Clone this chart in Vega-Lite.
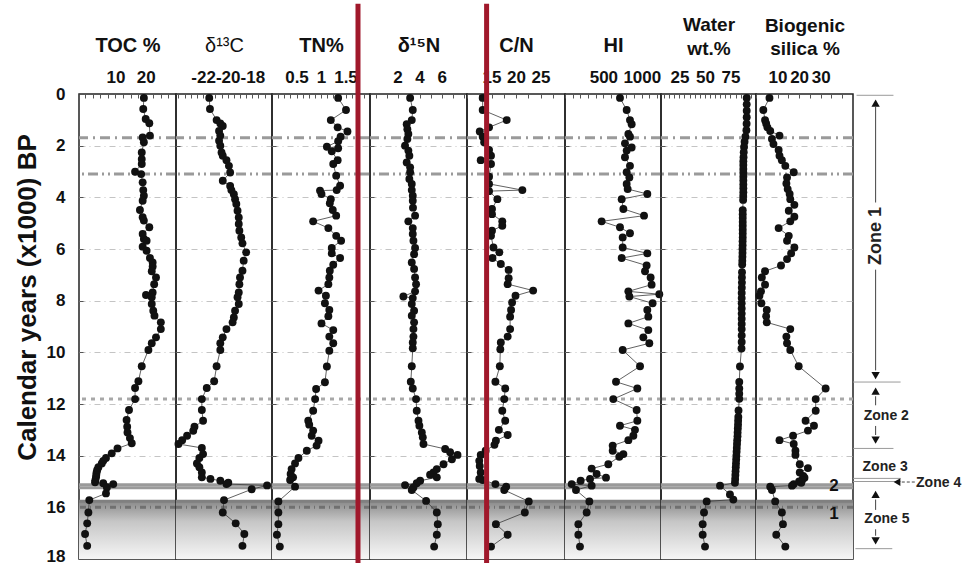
{
  "$schema": "https://vega.github.io/schema/vega-lite/v6.json",
  "padding": {"left": 13, "top": 0, "right": 0, "bottom": 0},
  "background": "white",
  "spacing": 0,
  "bounds": "flush",
  "config": {
    "view": {"stroke": "#222", "strokeWidth": 1.5},
    "font": "Liberation Sans",
    "axis": {"domain": false, "labelFont": "Liberation Sans", "titleFont": "Liberation Sans", "labelFontWeight": "bold", "titleFontWeight": "bold", "labelColor": "#111", "titleColor": "#111", "tickColor": "#555", "tickSize": -4, "tickWidth": 1, "labelOverlap": false, "labelFlush": false, "labelBound": false},
    "axisX": {"labelFontSize": 17, "labelBaseline": "alphabetic", "labelPadding": 16, "titleFontSize": 20, "titleBaseline": "alphabetic", "titleY": -43, "grid": false},
    "axisY": {"labelFontSize": 17, "labelPadding": 18, "titleFontSize": 26, "titlePadding": 6, "grid": true, "gridColor": "#c4c4c4", "gridDash": [6, 4, 1, 4], "gridWidth": 1}
  },
  "datasets": {
    "shade": [{"y1": 15.76, "y2": 18}],
    "hl": [{"y": 1.69, "k": "a"}, {"y": 3.1, "k": "b"}, {"y": 11.81, "k": "c"}, {"y": 15.13, "k": "d"}, {"y": 15.24, "k": "d"}, {"y": 15.76, "k": "e"}, {"y": 16.0, "k": "f"}],
    "toc": [{"age":0.15,"v":19.4},{"age":0.58,"v":19.2},{"age":0.97,"v":20.0},{"age":1.13,"v":21.2},{"age":1.61,"v":21.4},{"age":1.68,"v":19.0},{"age":1.87,"v":19.4},{"age":2.26,"v":18.7},{"age":2.52,"v":18.7},{"age":2.71,"v":18.7},{"age":3.01,"v":16.5},{"age":3.1,"v":18.5},{"age":3.42,"v":19.0},{"age":3.72,"v":19.2},{"age":3.94,"v":19.4},{"age":4.13,"v":19.0},{"age":4.49,"v":18.1},{"age":4.77,"v":19.0},{"age":4.9,"v":19.4},{"age":5.16,"v":21.2},{"age":5.42,"v":19.0},{"age":5.61,"v":19.4},{"age":5.68,"v":20.3},{"age":5.91,"v":19.0},{"age":6.07,"v":20.3},{"age":6.35,"v":21.4},{"age":6.52,"v":22.3},{"age":6.68,"v":22.3},{"age":6.86,"v":22.0},{"age":7.1,"v":23.4},{"age":7.36,"v":22.8},{"age":7.68,"v":22.3},{"age":7.78,"v":20.1},{"age":7.87,"v":22.0},{"age":8.13,"v":22.0},{"age":8.39,"v":22.5},{"age":8.58,"v":22.9},{"age":8.84,"v":25.0},{"age":9.1,"v":25.0},{"age":9.42,"v":23.4},{"age":9.65,"v":22.0},{"age":9.91,"v":20.9},{"age":10.54,"v":18.7},{"age":11.12,"v":17.6},{"age":11.38,"v":16.5},{"age":11.81,"v":16.5},{"age":12.23,"v":14.5},{"age":12.62,"v":13.7},{"age":12.88,"v":13.9},{"age":13.1,"v":14.0},{"age":13.32,"v":14.8},{"age":13.52,"v":15.4},{"age":13.72,"v":10.7},{"age":13.91,"v":8.8},{"age":14.09,"v":6.9},{"age":14.2,"v":6.0},{"age":14.3,"v":5.5},{"age":14.45,"v":4.4},{"age":14.55,"v":4.0},{"age":14.65,"v":3.8},{"age":14.75,"v":3.7},{"age":14.84,"v":3.6},{"age":14.95,"v":3.4},{"age":15.03,"v":3.3},{"age":15.07,"v":6.0},{"age":15.1,"v":9.3},{"age":15.23,"v":7.2},{"age":15.46,"v":6.9},{"age":15.72,"v":1.4},{"age":16.2,"v":1.1},{"age":16.62,"v":0.7},{"age":17.03,"v":0.0},{"age":17.49,"v":0.7}],
    "d13c": [{"age":0.15,"v":-21.5},{"age":0.58,"v":-21.44},{"age":1.01,"v":-20.9},{"age":1.14,"v":-20.6},{"age":1.24,"v":-20.4},{"age":1.43,"v":-20.7},{"age":1.61,"v":-20.6},{"age":1.81,"v":-20.7},{"age":2.0,"v":-20.6},{"age":2.26,"v":-20.5},{"age":2.39,"v":-20.4},{"age":2.56,"v":-20.1},{"age":2.78,"v":-19.9},{"age":3.04,"v":-19.8},{"age":3.36,"v":-20.4},{"age":3.56,"v":-19.8},{"age":3.72,"v":-19.7},{"age":3.88,"v":-19.5},{"age":4.07,"v":-19.4},{"age":4.26,"v":-19.3},{"age":4.52,"v":-19.2},{"age":4.78,"v":-19.1},{"age":5.03,"v":-19.1},{"age":5.29,"v":-19.05},{"age":5.55,"v":-18.9},{"age":5.78,"v":-18.8},{"age":6.13,"v":-18.5},{"age":6.45,"v":-18.7},{"age":6.84,"v":-18.8},{"age":7.1,"v":-19.0},{"age":7.36,"v":-19.05},{"age":7.68,"v":-19.1},{"age":7.87,"v":-19.2},{"age":8.13,"v":-19.1},{"age":8.39,"v":-19.4},{"age":8.65,"v":-19.5},{"age":8.84,"v":-19.6},{"age":9.1,"v":-20.1},{"age":9.42,"v":-20.4},{"age":9.65,"v":-20.6},{"age":9.91,"v":-20.6},{"age":10.54,"v":-20.9},{"age":11.12,"v":-21.1},{"age":11.38,"v":-21.7},{"age":11.81,"v":-22.1},{"age":12.23,"v":-22.1},{"age":12.65,"v":-22.0},{"age":12.88,"v":-22.7},{"age":13.04,"v":-22.8},{"age":13.23,"v":-23.3},{"age":13.4,"v":-23.7},{"age":13.55,"v":-24.0},{"age":13.7,"v":-22.1},{"age":13.94,"v":-22.0},{"age":14.09,"v":-22.3},{"age":14.3,"v":-22.5},{"age":14.45,"v":-22.3},{"age":14.65,"v":-22.1},{"age":14.84,"v":-22.1},{"age":14.9,"v":-21.4},{"age":14.97,"v":-20.6},{"age":15.05,"v":-19.95},{"age":15.1,"v":-20.1},{"age":15.15,"v":-16.8},{"age":15.3,"v":-18.05},{"age":15.72,"v":-20.3},{"age":16.2,"v":-20.4},{"age":16.62,"v":-19.35},{"age":17.03,"v":-18.65},{"age":17.49,"v":-18.8}],
    "tn": [{"age":0.15,"v":1.35},{"age":0.62,"v":1.51},{"age":1.01,"v":1.2},{"age":1.29,"v":1.34},{"age":1.45,"v":1.54},{"age":1.65,"v":1.4},{"age":1.83,"v":1.35},{"age":2.04,"v":1.12},{"age":2.1,"v":1.35},{"age":2.22,"v":1.22},{"age":2.56,"v":1.34},{"age":2.71,"v":1.25},{"age":3.16,"v":1.31},{"age":3.55,"v":1.39},{"age":3.72,"v":1.32},{"age":3.74,"v":0.98},{"age":3.87,"v":1.01},{"age":4.07,"v":1.2},{"age":4.23,"v":1.18},{"age":4.49,"v":1.24},{"age":4.71,"v":1.31},{"age":4.93,"v":0.84},{"age":5.19,"v":1.15},{"age":5.49,"v":1.31},{"age":5.68,"v":1.41},{"age":5.96,"v":1.22},{"age":6.17,"v":1.22},{"age":6.35,"v":1.39},{"age":6.61,"v":1.25},{"age":6.84,"v":1.18},{"age":7.1,"v":1.17},{"age":7.36,"v":1.15},{"age":7.61,"v":0.95},{"age":7.81,"v":1.1},{"age":8.1,"v":1.08},{"age":8.36,"v":1.17},{"age":8.6,"v":1.15},{"age":8.88,"v":1.01},{"age":9.14,"v":1.25},{"age":9.39,"v":1.17},{"age":9.65,"v":1.25},{"age":9.94,"v":1.17},{"age":10.55,"v":1.12},{"age":11.16,"v":1.08},{"age":11.42,"v":0.9},{"age":11.81,"v":0.88},{"age":12.26,"v":0.84},{"age":12.65,"v":0.74},{"age":12.8,"v":0.76},{"age":13.03,"v":0.84},{"age":13.23,"v":0.81},{"age":13.42,"v":0.95},{"age":13.61,"v":0.91},{"age":13.81,"v":0.71},{"age":14.09,"v":0.54},{"age":14.3,"v":0.47},{"age":14.52,"v":0.4},{"age":14.71,"v":0.38},{"age":14.84,"v":0.43},{"age":14.94,"v":0.37},{"age":15.2,"v":0.47},{"age":15.77,"v":0.13},{"age":16.2,"v":0.13},{"age":16.65,"v":0.13},{"age":17.06,"v":0.1},{"age":17.52,"v":0.16}],
    "d15n": [{"age":0.15,"v":3.14},{"age":0.62,"v":3.38},{"age":1.01,"v":3.29},{"age":1.17,"v":2.83},{"age":1.36,"v":2.89},{"age":1.55,"v":2.98},{"age":1.74,"v":2.89},{"age":2.0,"v":2.68},{"age":2.19,"v":2.98},{"age":2.39,"v":3.07},{"age":2.65,"v":2.83},{"age":2.84,"v":3.14},{"age":3.03,"v":3.14},{"age":3.29,"v":3.07},{"age":3.48,"v":3.29},{"age":3.72,"v":3.29},{"age":3.94,"v":3.38},{"age":4.13,"v":3.38},{"age":4.4,"v":3.4},{"age":4.71,"v":3.59},{"age":4.93,"v":2.98},{"age":5.19,"v":3.38},{"age":5.42,"v":3.38},{"age":5.68,"v":3.44},{"age":5.96,"v":3.59},{"age":6.2,"v":3.5},{"age":6.52,"v":3.29},{"age":6.77,"v":3.5},{"age":7.1,"v":3.59},{"age":7.36,"v":3.68},{"age":7.64,"v":3.59},{"age":7.84,"v":2.53},{"age":7.9,"v":3.38},{"age":8.13,"v":3.29},{"age":8.39,"v":3.5},{"age":8.58,"v":3.29},{"age":8.84,"v":3.5},{"age":9.1,"v":3.44},{"age":9.39,"v":3.44},{"age":9.62,"v":3.38},{"age":9.84,"v":3.38},{"age":10.54,"v":3.29},{"age":11.14,"v":3.2},{"age":11.4,"v":3.38},{"age":11.81,"v":3.68},{"age":12.26,"v":3.74},{"age":12.65,"v":3.9},{"age":12.84,"v":3.98},{"age":13.1,"v":4.2},{"age":13.29,"v":4.29},{"age":13.55,"v":4.35},{"age":13.74,"v":6.32},{"age":13.87,"v":6.77},{"age":13.97,"v":7.44},{"age":14.14,"v":6.93},{"age":14.33,"v":6.17},{"age":14.52,"v":5.56},{"age":14.65,"v":5.26},{"age":14.74,"v":4.95},{"age":14.84,"v":5.56},{"age":14.97,"v":4.05},{"age":15.07,"v":3.74},{"age":15.14,"v":2.68},{"age":15.23,"v":3.44},{"age":15.33,"v":3.29},{"age":15.75,"v":4.59},{"age":16.2,"v":5.56},{"age":16.65,"v":5.65},{"age":17.06,"v":5.56},{"age":17.52,"v":5.32}],
    "cn": [{"age":0.15,"v":13.2},{"age":0.62,"v":13.2},{"age":1.01,"v":18.1},{"age":1.29,"v":14.5},{"age":1.45,"v":12.6},{"age":1.65,"v":13.2},{"age":1.87,"v":13.5},{"age":2.17,"v":14.5},{"age":2.39,"v":14.9},{"age":2.56,"v":12.8},{"age":2.71,"v":14.9},{"age":3.2,"v":14.5},{"age":3.48,"v":14.5},{"age":3.72,"v":21.3},{"age":3.76,"v":14.5},{"age":4.07,"v":16.2},{"age":4.45,"v":15.1},{"age":4.65,"v":15.1},{"age":4.93,"v":17.2},{"age":5.1,"v":17.2},{"age":5.29,"v":15.1},{"age":5.49,"v":14.9},{"age":5.94,"v":15.4},{"age":6.13,"v":16.6},{"age":6.35,"v":15.2},{"age":6.58,"v":16.9},{"age":6.81,"v":18.5},{"age":7.13,"v":18.5},{"age":7.36,"v":18.3},{"age":7.61,"v":23.5},{"age":7.81,"v":19.9},{"age":8.07,"v":19.2},{"age":8.36,"v":19.0},{"age":8.62,"v":18.8},{"age":9.1,"v":18.8},{"age":9.39,"v":18.3},{"age":9.62,"v":16.9},{"age":9.88,"v":16.8},{"age":10.54,"v":16.7},{"age":11.14,"v":15.8},{"age":11.4,"v":17.8},{"age":11.81,"v":17.6},{"age":12.26,"v":17.2},{"age":12.65,"v":17.8},{"age":13.0,"v":16.5},{"age":13.2,"v":18.3},{"age":13.42,"v":15.9},{"age":13.58,"v":15.6},{"age":13.81,"v":13.8},{"age":13.97,"v":12.8},{"age":14.2,"v":12.5},{"age":14.4,"v":12.6},{"age":14.65,"v":12.8},{"age":14.9,"v":12.5},{"age":14.94,"v":13.2},{"age":15.1,"v":15.8},{"age":15.2,"v":18.0},{"age":15.33,"v":17.6},{"age":15.77,"v":22.6},{"age":16.2,"v":21.8},{"age":16.65,"v":15.9},{"age":17.06,"v":18.3},{"age":17.52,"v":14.9}],
    "hi": [{"age":0.15,"v":716},{"age":0.62,"v":803},{"age":1.01,"v":846},{"age":1.17,"v":868},{"age":1.55,"v":825},{"age":1.65,"v":846},{"age":1.91,"v":781},{"age":2.07,"v":868},{"age":2.19,"v":803},{"age":2.45,"v":781},{"age":2.78,"v":846},{"age":3.03,"v":803},{"age":3.23,"v":838},{"age":3.48,"v":803},{"age":3.68,"v":816},{"age":3.87,"v":1072},{"age":4.07,"v":738},{"age":4.45,"v":760},{"age":4.71,"v":1029},{"age":4.93,"v":477},{"age":5.16,"v":716},{"age":5.39,"v":846},{"age":5.55,"v":751},{"age":5.94,"v":751},{"age":6.17,"v":1072},{"age":6.35,"v":738},{"age":6.64,"v":1063},{"age":6.86,"v":1042},{"age":7.1,"v":1115},{"age":7.38,"v":1128},{"age":7.64,"v":825},{"age":7.75,"v":1228},{"age":7.84,"v":838},{"age":8.1,"v":1141},{"age":8.36,"v":1072},{"age":8.62,"v":1085},{"age":8.88,"v":825},{"age":9.14,"v":1085},{"age":9.42,"v":1020},{"age":9.65,"v":1098},{"age":9.91,"v":751},{"age":10.54,"v":977},{"age":11.14,"v":664},{"age":11.4,"v":942},{"age":11.81,"v":629},{"age":12.23,"v":933},{"age":12.65,"v":942},{"age":12.84,"v":716},{"age":13.0,"v":911},{"age":13.23,"v":890},{"age":13.4,"v":825},{"age":13.61,"v":621},{"age":13.81,"v":621},{"age":13.94,"v":760},{"age":14.04,"v":707},{"age":14.33,"v":564},{"age":14.5,"v":347},{"age":14.71,"v":412},{"age":14.85,"v":534},{"age":14.9,"v":326},{"age":14.97,"v":204},{"age":15.1,"v":87},{"age":15.16,"v":347},{"age":15.33,"v":143},{"age":15.77,"v":317},{"age":16.2,"v":282},{"age":16.65,"v":174},{"age":17.06,"v":174},{"age":17.52,"v":195}],
    "water": [{"age":0.15,"v":90.9},{"age":0.4,"v":90.9},{"age":0.65,"v":90.9},{"age":0.9,"v":90.9},{"age":1.15,"v":90.8},{"age":1.4,"v":90.6},{"age":1.65,"v":89.6},{"age":1.85,"v":88.8},{"age":2.05,"v":88.3},{"age":2.25,"v":88.0},{"age":2.45,"v":87.8},{"age":2.6,"v":87.6},{"age":2.75,"v":87.6},{"age":2.9,"v":87.6},{"age":3.05,"v":87.6},{"age":3.2,"v":87.6},{"age":3.35,"v":87.6},{"age":3.5,"v":87.6},{"age":3.65,"v":87.6},{"age":3.8,"v":87.6},{"age":3.95,"v":87.5},{"age":4.1,"v":87.4},{"age":4.5,"v":87.0},{"age":4.65,"v":87.0},{"age":4.8,"v":87.0},{"age":4.95,"v":87.0},{"age":5.1,"v":87.0},{"age":5.25,"v":87.0},{"age":5.4,"v":87.0},{"age":5.55,"v":87.0},{"age":5.7,"v":86.9},{"age":5.85,"v":86.9},{"age":6.0,"v":86.8},{"age":6.15,"v":86.8},{"age":6.3,"v":86.7},{"age":6.45,"v":86.6},{"age":6.6,"v":86.5},{"age":6.9,"v":86.3},{"age":7.1,"v":86.2},{"age":7.3,"v":86.2},{"age":7.5,"v":86.1},{"age":7.7,"v":86.0},{"age":7.9,"v":86.0},{"age":8.1,"v":86.0},{"age":8.3,"v":86.0},{"age":8.5,"v":86.0},{"age":8.7,"v":86.0},{"age":8.9,"v":86.0},{"age":9.1,"v":86.0},{"age":9.35,"v":86.0},{"age":9.6,"v":86.0},{"age":9.85,"v":85.8},{"age":10.55,"v":84.3},{"age":11.15,"v":83.6},{"age":11.4,"v":83.6},{"age":11.6,"v":83.6},{"age":11.8,"v":83.6},{"age":12.25,"v":82.9},{"age":12.5,"v":82.7},{"age":12.65,"v":82.5},{"age":12.8,"v":82.4},{"age":12.95,"v":82.2},{"age":13.1,"v":82.0},{"age":13.25,"v":81.9},{"age":13.4,"v":81.6},{"age":13.55,"v":81.4},{"age":13.7,"v":81.2},{"age":13.85,"v":81.0},{"age":14.0,"v":80.8},{"age":14.15,"v":80.6},{"age":14.3,"v":80.4},{"age":14.45,"v":80.2},{"age":14.6,"v":80.0},{"age":14.75,"v":79.8},{"age":14.9,"v":79.6},{"age":15.05,"v":79.4},{"age":15.16,"v":64.8},{"age":15.5,"v":74.5},{"age":15.7,"v":77.8},{"age":15.77,"v":51.7},{"age":16.2,"v":49.1},{"age":16.65,"v":47.8},{"age":17.06,"v":47.8},{"age":17.52,"v":50.1}],
    "bsi": [{"age":0.15,"v":6.25},{"age":0.62,"v":3.4},{"age":1.01,"v":4.2},{"age":1.14,"v":4.7},{"age":1.29,"v":5.3},{"age":1.43,"v":6.6},{"age":1.61,"v":10.9},{"age":1.74,"v":7.4},{"age":1.94,"v":8.1},{"age":2.17,"v":10.5},{"age":2.39,"v":10.9},{"age":2.56,"v":12.0},{"age":2.78,"v":13.6},{"age":3.03,"v":17.5},{"age":3.23,"v":14.4},{"age":3.46,"v":14.1},{"age":3.68,"v":14.7},{"age":3.87,"v":15.6},{"age":4.07,"v":15.9},{"age":4.29,"v":17.8},{"age":4.52,"v":15.2},{"age":4.75,"v":17.8},{"age":4.93,"v":15.9},{"age":5.19,"v":10.5},{"age":5.49,"v":15.2},{"age":5.68,"v":14.4},{"age":5.94,"v":17.8},{"age":6.17,"v":16.3},{"age":6.39,"v":14.4},{"age":6.64,"v":11.6},{"age":6.86,"v":4.2},{"age":7.1,"v":2.7},{"age":7.38,"v":4.2},{"age":7.64,"v":2.3},{"age":7.81,"v":1.6},{"age":8.1,"v":2.5},{"age":8.36,"v":5.0},{"age":8.6,"v":4.7},{"age":8.84,"v":5.0},{"age":9.1,"v":15.9},{"age":9.39,"v":14.1},{"age":9.65,"v":14.4},{"age":9.91,"v":15.9},{"age":10.54,"v":19.8},{"age":11.4,"v":32.3},{"age":11.81,"v":27.7},{"age":12.26,"v":27.7},{"age":12.65,"v":23.0},{"age":12.84,"v":26.9},{"age":13.03,"v":24.1},{"age":13.23,"v":17.2},{"age":13.4,"v":10.9},{"age":13.55,"v":17.5},{"age":13.81,"v":18.3},{"age":13.97,"v":18.3},{"age":14.33,"v":20.3},{"age":14.48,"v":24.1},{"age":14.65,"v":20.3},{"age":14.78,"v":21.9},{"age":14.85,"v":22.5},{"age":14.94,"v":21.4},{"age":15.0,"v":20.0},{"age":15.05,"v":21.0},{"age":15.1,"v":17.5},{"age":15.16,"v":16.7},{"age":15.2,"v":6.6},{"age":15.33,"v":7.4},{"age":15.77,"v":8.9},{"age":16.2,"v":12.0},{"age":16.65,"v":12.5},{"age":17.06,"v":9.4},{"age":17.52,"v":13.6}],
    "sublabels": [{"age": 15.18, "v": 36.2, "t": "2"}, {"age": 16.26, "v": 36.2, "t": "1"}],
    "zlines": [{"y": 0.05, "x1": 0.03, "x2": 0.34}, {"y": 11.15, "x1": 0.0, "x2": 0.4}, {"y": 13.72, "x1": 0.0, "x2": 0.34}, {"y": 14.88, "x1": 0.0, "x2": 0.4}, {"y": 15.0, "x1": 0.0, "x2": 0.4}, {"y": 17.6, "x1": 0.02, "x2": 0.33}],
    "zshafts": [{"x": 0.19, "y1": 0.5, "y2": 4.2}, {"x": 0.19, "y1": 6.8, "y2": 10.7}, {"x": 0.19, "y1": 11.7, "y2": 12.05}, {"x": 0.19, "y1": 12.85, "y2": 13.2}, {"x": 0.19, "y1": 15.7, "y2": 16.1}, {"x": 0.19, "y1": 16.85, "y2": 17.1}],
    "zup": [{"x": 0.19, "y": 0.35}, {"x": 0.19, "y": 11.5}, {"x": 0.19, "y": 15.5}],
    "zdown": [{"x": 0.19, "y": 10.9}, {"x": 0.19, "y": 13.4}, {"x": 0.19, "y": 17.3}],
    "zleft": [{"x": 0.37, "y": 15.02}],
    "z4shaft": [{"x1": 0.41, "x2": 0.52, "y": 15.02}],
    "ztext": [{"x": 0.28, "y": 12.45, "t": "Zone 2"}, {"x": 0.27, "y": 14.45, "t": "Zone 3"}, {"x": 0.285, "y": 16.45, "t": "Zone 5"}],
    "z4text": [{"x": 0.53, "y": 15.05, "t": "Zone 4"}],
    "z1text": [{"x": 0.19, "y": 5.5, "t": "Zone 1"}]
  },
  "hconcat": [
    {
      "width": 97, "height": 465,
      "layer": [
        {"data": {"name": "shade"}, "mark": {"type": "rect", "color": {"gradient": "linear", "x1": 0, "y1": 0, "x2": 0, "y2": 1, "stops": [{"offset": 0, "color": "#8a8a8a"}, {"offset": 0.35, "color": "#c6c6c6"}, {"offset": 1, "color": "#f6f6f6"}]}},
         "encoding": {"y": {"field": "y1", "type": "quantitative", "scale": {"domain": [0, 18], "reverse": true, "nice": false, "zero": false}, "axis": {"values": [0,1,2,3,4,5,6,7,8,9,10,11,12,13,14,15,16,17,18], "title": "Calendar years (x1000) BP", "titleY": 203, "labelOverlap": false, "labelOffset": {"condition": {"test": "datum.value == 18", "value": -3}, "value": 0}, "labelExpr": "datum.value % 2 === 0 ? datum.label : ''", "gridOpacity": {"condition": {"test": "datum.value % 2 === 0 && datum.value > 0 && datum.value < 18", "value": 1}, "value": 0}}}, "y2": {"field": "y2"}}},
        {"data": {"name": "hl"}, "mark": {"type": "rule"}, "encoding": {"y": {"field": "y", "type": "quantitative"}, "strokeDash": {"field": "k", "type": "nominal", "scale": {"domain": ["a","b","c","d","e","f"], "range": [[10,5,2,5],[10,4,2,4,2,4],[4,5],[1,0],[1,0],[6,4,1,4]]}, "legend": null}, "color": {"field": "k", "type": "nominal", "scale": {"domain": ["a","b","c","d","e","f"], "range": ["#9a9a9a","#9a9a9a","#a8a8a8","#9a9a9a","#808080","#707070"]}, "legend": null}, "strokeWidth": {"field": "k", "type": "ordinal", "scale": {"domain": ["a","b","c","d","e","f"], "range": [3,3,4,1.2,1.5,1]}, "legend": null}}},
        {"data": {"name": "toc"}, "mark": {"type": "line", "color": "#3a3a3a", "strokeWidth": 0.8, "point": {"filled": true, "color": "#111", "size": 62, "opacity": 1}},
         "encoding": {"x": {"field": "v", "type": "quantitative", "scale": {"domain": [-2, 30], "nice": false, "zero": false}, "axis": {"orient": "top", "title": "TOC %", "labelOverlap": false, "values": [0,2.5,5,7.5,10,12.5,15,17.5,20,22.5,25,27.5,30], "labelExpr": "datum.value == 10 ? '10' : datum.value == 20 ? '20' : ''"}}, "y": {"field": "age", "type": "quantitative"}, "order": {"field": "age", "type": "quantitative"}}}
      ]
    },
    {
      "width": 96, "height": 465,
      "layer": [
        {"data": {"name": "shade"}, "mark": {"type": "rect", "color": {"gradient": "linear", "x1": 0, "y1": 0, "x2": 0, "y2": 1, "stops": [{"offset": 0, "color": "#8a8a8a"}, {"offset": 0.35, "color": "#c6c6c6"}, {"offset": 1, "color": "#f6f6f6"}]}},
         "encoding": {"y": {"field": "y1", "type": "quantitative", "scale": {"domain": [0, 18], "reverse": true, "nice": false, "zero": false}, "axis": {"values": [0,1,2,3,4,5,6,7,8,9,10,11,12,13,14,15,16,17,18], "labels": false, "title": null, "gridOpacity": {"condition": {"test": "datum.value % 2 === 0 && datum.value > 0 && datum.value < 18", "value": 1}, "value": 0}}}, "y2": {"field": "y2"}}},
        {"data": {"name": "hl"}, "mark": {"type": "rule"}, "encoding": {"y": {"field": "y", "type": "quantitative"}, "strokeDash": {"field": "k", "type": "nominal", "scale": {"domain": ["a","b","c","d","e","f"], "range": [[10,5,2,5],[10,4,2,4,2,4],[4,5],[1,0],[1,0],[6,4,1,4]]}, "legend": null}, "color": {"field": "k", "type": "nominal", "scale": {"domain": ["a","b","c","d","e","f"], "range": ["#9a9a9a","#9a9a9a","#a8a8a8","#9a9a9a","#808080","#707070"]}, "legend": null}, "strokeWidth": {"field": "k", "type": "ordinal", "scale": {"domain": ["a","b","c","d","e","f"], "range": [3,3,4,1.2,1.5,1]}, "legend": null}}},
        {"data": {"name": "d13c"}, "mark": {"type": "line", "color": "#3a3a3a", "strokeWidth": 0.8, "point": {"filled": true, "color": "#111", "size": 62, "opacity": 1}},
         "encoding": {"x": {"field": "v", "type": "quantitative", "scale": {"domain": [-24.2, -16.4], "nice": false, "zero": false}, "axis": {"orient": "top", "title": "δ¹³C", "titleFontWeight": "normal", "labelOverlap": false, "values": [-24,-23.5,-23,-22.5,-22,-21.5,-21,-20.5,-20,-19.5,-19,-18.5,-18,-17.5,-17,-16.5], "labelExpr": "datum.value == -22 ? '-22' : datum.value == -20 ? '-20' : datum.value == -18 ? '-18' : ''"}}, "y": {"field": "age", "type": "quantitative"}, "order": {"field": "age", "type": "quantitative"}}}
      ]
    },
    {
      "width": 98, "height": 465,
      "resolve": {"scale": {"x": "independent"}, "axis": {"x": "independent"}},
      "layer": [
        {"data": {"name": "shade"}, "mark": {"type": "rect", "color": {"gradient": "linear", "x1": 0, "y1": 0, "x2": 0, "y2": 1, "stops": [{"offset": 0, "color": "#8a8a8a"}, {"offset": 0.35, "color": "#c6c6c6"}, {"offset": 1, "color": "#f6f6f6"}]}},
         "encoding": {"y": {"field": "y1", "type": "quantitative", "scale": {"domain": [0, 18], "reverse": true, "nice": false, "zero": false}, "axis": {"values": [0,1,2,3,4,5,6,7,8,9,10,11,12,13,14,15,16,17,18], "labels": false, "title": null, "gridOpacity": {"condition": {"test": "datum.value % 2 === 0 && datum.value > 0 && datum.value < 18", "value": 1}, "value": 0}}}, "y2": {"field": "y2"}}},
        {"data": {"name": "hl"}, "mark": {"type": "rule"}, "encoding": {"y": {"field": "y", "type": "quantitative"}, "strokeDash": {"field": "k", "type": "nominal", "scale": {"domain": ["a","b","c","d","e","f"], "range": [[10,5,2,5],[10,4,2,4,2,4],[4,5],[1,0],[1,0],[6,4,1,4]]}, "legend": null}, "color": {"field": "k", "type": "nominal", "scale": {"domain": ["a","b","c","d","e","f"], "range": ["#9a9a9a","#9a9a9a","#a8a8a8","#9a9a9a","#808080","#707070"]}, "legend": null}, "strokeWidth": {"field": "k", "type": "ordinal", "scale": {"domain": ["a","b","c","d","e","f"], "range": [3,3,4,1.2,1.5,1]}, "legend": null}}},
        {"data": {"name": "tn"}, "mark": {"type": "line", "color": "#3a3a3a", "strokeWidth": 0.8, "point": {"filled": true, "color": "#111", "size": 62, "opacity": 1}},
         "encoding": {"x": {"field": "v", "type": "quantitative", "scale": {"domain": [0, 2], "nice": false, "zero": false}, "axis": {"orient": "top", "title": "TN%", "labelOverlap": false, "values": [0.125,0.25,0.375,0.5,0.625,0.75,0.875,1,1.125,1.25,1.375,1.5,1.625,1.75,1.875], "labelExpr": "datum.value == 0.5 ? '0.5' : datum.value == 1 ? '1' : datum.value == 1.5 ? '1.5' : ''"}}, "y": {"field": "age", "type": "quantitative"}, "order": {"field": "age", "type": "quantitative"}}},
        {"data": {"values": [{}]}, "mark": {"type": "rule", "color": "#a0182b", "strokeWidth": 5}, "encoding": {"x": {"datum": 1.755, "type": "quantitative", "scale": {"domain": [0, 2], "nice": false, "zero": false}, "axis": null}, "y": {"datum": -3.49, "type": "quantitative"}, "y2": {"datum": 18.32}}}
      ]
    },
    {
      "width": 97, "height": 465,
      "layer": [
        {"data": {"name": "shade"}, "mark": {"type": "rect", "color": {"gradient": "linear", "x1": 0, "y1": 0, "x2": 0, "y2": 1, "stops": [{"offset": 0, "color": "#8a8a8a"}, {"offset": 0.35, "color": "#c6c6c6"}, {"offset": 1, "color": "#f6f6f6"}]}},
         "encoding": {"y": {"field": "y1", "type": "quantitative", "scale": {"domain": [0, 18], "reverse": true, "nice": false, "zero": false}, "axis": {"values": [0,1,2,3,4,5,6,7,8,9,10,11,12,13,14,15,16,17,18], "labels": false, "title": null, "gridOpacity": {"condition": {"test": "datum.value % 2 === 0 && datum.value > 0 && datum.value < 18", "value": 1}, "value": 0}}}, "y2": {"field": "y2"}}},
        {"data": {"name": "hl"}, "mark": {"type": "rule"}, "encoding": {"y": {"field": "y", "type": "quantitative"}, "strokeDash": {"field": "k", "type": "nominal", "scale": {"domain": ["a","b","c","d","e","f"], "range": [[10,5,2,5],[10,4,2,4,2,4],[4,5],[1,0],[1,0],[6,4,1,4]]}, "legend": null}, "color": {"field": "k", "type": "nominal", "scale": {"domain": ["a","b","c","d","e","f"], "range": ["#9a9a9a","#9a9a9a","#a8a8a8","#9a9a9a","#808080","#707070"]}, "legend": null}, "strokeWidth": {"field": "k", "type": "ordinal", "scale": {"domain": ["a","b","c","d","e","f"], "range": [3,3,4,1.2,1.5,1]}, "legend": null}}},
        {"data": {"name": "d15n"}, "mark": {"type": "line", "color": "#3a3a3a", "strokeWidth": 0.8, "point": {"filled": true, "color": "#111", "size": 62, "opacity": 1}},
         "encoding": {"x": {"field": "v", "type": "quantitative", "scale": {"domain": [-0.5, 8.3], "nice": false, "zero": false}, "axis": {"orient": "top", "title": "δ¹⁵N", "labelOverlap": false, "values": [0,1,2,3,4,5,6,7,8], "labelExpr": "datum.value == 2 ? '2' : datum.value == 4 ? '4' : datum.value == 6 ? '6' : ''"}}, "y": {"field": "age", "type": "quantitative"}, "order": {"field": "age", "type": "quantitative"}}}
      ]
    },
    {
      "width": 98, "height": 465,
      "resolve": {"scale": {"x": "independent"}, "axis": {"x": "independent"}},
      "layer": [
        {"data": {"name": "shade"}, "mark": {"type": "rect", "color": {"gradient": "linear", "x1": 0, "y1": 0, "x2": 0, "y2": 1, "stops": [{"offset": 0, "color": "#8a8a8a"}, {"offset": 0.35, "color": "#c6c6c6"}, {"offset": 1, "color": "#f6f6f6"}]}},
         "encoding": {"y": {"field": "y1", "type": "quantitative", "scale": {"domain": [0, 18], "reverse": true, "nice": false, "zero": false}, "axis": {"values": [0,1,2,3,4,5,6,7,8,9,10,11,12,13,14,15,16,17,18], "labels": false, "title": null, "gridOpacity": {"condition": {"test": "datum.value % 2 === 0 && datum.value > 0 && datum.value < 18", "value": 1}, "value": 0}}}, "y2": {"field": "y2"}}},
        {"data": {"name": "hl"}, "mark": {"type": "rule"}, "encoding": {"y": {"field": "y", "type": "quantitative"}, "strokeDash": {"field": "k", "type": "nominal", "scale": {"domain": ["a","b","c","d","e","f"], "range": [[10,5,2,5],[10,4,2,4,2,4],[4,5],[1,0],[1,0],[6,4,1,4]]}, "legend": null}, "color": {"field": "k", "type": "nominal", "scale": {"domain": ["a","b","c","d","e","f"], "range": ["#9a9a9a","#9a9a9a","#a8a8a8","#9a9a9a","#808080","#707070"]}, "legend": null}, "strokeWidth": {"field": "k", "type": "ordinal", "scale": {"domain": ["a","b","c","d","e","f"], "range": [3,3,4,1.2,1.5,1]}, "legend": null}}},
        {"data": {"name": "cn"}, "mark": {"type": "line", "color": "#3a3a3a", "strokeWidth": 0.8, "point": {"filled": true, "color": "#111", "size": 62, "opacity": 1}},
         "encoding": {"x": {"field": "v", "type": "quantitative", "scale": {"domain": [10, 30], "nice": false, "zero": false}, "axis": {"orient": "top", "title": "C/N", "labelOverlap": false, "values": [10,12.5,15,17.5,20,22.5,25,27.5,30], "labelExpr": "datum.value == 15 ? '15' : datum.value == 20 ? '20' : datum.value == 25 ? '25' : ''"}}, "y": {"field": "age", "type": "quantitative"}, "order": {"field": "age", "type": "quantitative"}}},
        {"data": {"values": [{}]}, "mark": {"type": "rule", "color": "#a0182b", "strokeWidth": 5}, "encoding": {"x": {"datum": 14.0, "type": "quantitative", "scale": {"domain": [10, 30], "nice": false, "zero": false}, "axis": null}, "y": {"datum": -3.49, "type": "quantitative"}, "y2": {"datum": 18.32}}}
      ]
    },
    {
      "width": 96, "height": 465,
      "layer": [
        {"data": {"name": "shade"}, "mark": {"type": "rect", "color": {"gradient": "linear", "x1": 0, "y1": 0, "x2": 0, "y2": 1, "stops": [{"offset": 0, "color": "#8a8a8a"}, {"offset": 0.35, "color": "#c6c6c6"}, {"offset": 1, "color": "#f6f6f6"}]}},
         "encoding": {"y": {"field": "y1", "type": "quantitative", "scale": {"domain": [0, 18], "reverse": true, "nice": false, "zero": false}, "axis": {"values": [0,1,2,3,4,5,6,7,8,9,10,11,12,13,14,15,16,17,18], "labels": false, "title": null, "gridOpacity": {"condition": {"test": "datum.value % 2 === 0 && datum.value > 0 && datum.value < 18", "value": 1}, "value": 0}}}, "y2": {"field": "y2"}}},
        {"data": {"name": "hl"}, "mark": {"type": "rule"}, "encoding": {"y": {"field": "y", "type": "quantitative"}, "strokeDash": {"field": "k", "type": "nominal", "scale": {"domain": ["a","b","c","d","e","f"], "range": [[10,5,2,5],[10,4,2,4,2,4],[4,5],[1,0],[1,0],[6,4,1,4]]}, "legend": null}, "color": {"field": "k", "type": "nominal", "scale": {"domain": ["a","b","c","d","e","f"], "range": ["#9a9a9a","#9a9a9a","#a8a8a8","#9a9a9a","#808080","#707070"]}, "legend": null}, "strokeWidth": {"field": "k", "type": "ordinal", "scale": {"domain": ["a","b","c","d","e","f"], "range": [3,3,4,1.2,1.5,1]}, "legend": null}}},
        {"data": {"name": "hi"}, "mark": {"type": "line", "color": "#3a3a3a", "strokeWidth": 0.8, "point": {"filled": true, "color": "#111", "size": 62, "opacity": 1}},
         "encoding": {"x": {"field": "v", "type": "quantitative", "scale": {"domain": [0, 1250], "nice": false, "zero": false}, "axis": {"orient": "top", "title": "HI", "labelOverlap": false, "values": [0,100,200,300,400,500,600,700,800,900,1000,1100,1200], "labelExpr": "datum.value == 500 ? '500' : datum.value == 1000 ? '1000' : ''"}}, "y": {"field": "age", "type": "quantitative"}, "order": {"field": "age", "type": "quantitative"}}}
      ]
    },
    {
      "width": 95, "height": 465,
      "layer": [
        {"data": {"name": "shade"}, "mark": {"type": "rect", "color": {"gradient": "linear", "x1": 0, "y1": 0, "x2": 0, "y2": 1, "stops": [{"offset": 0, "color": "#8a8a8a"}, {"offset": 0.35, "color": "#c6c6c6"}, {"offset": 1, "color": "#f6f6f6"}]}},
         "encoding": {"y": {"field": "y1", "type": "quantitative", "scale": {"domain": [0, 18], "reverse": true, "nice": false, "zero": false}, "axis": {"values": [0,1,2,3,4,5,6,7,8,9,10,11,12,13,14,15,16,17,18], "labels": false, "title": null, "gridOpacity": {"condition": {"test": "datum.value % 2 === 0 && datum.value > 0 && datum.value < 18", "value": 1}, "value": 0}}}, "y2": {"field": "y2"}}},
        {"data": {"name": "hl"}, "mark": {"type": "rule"}, "encoding": {"y": {"field": "y", "type": "quantitative"}, "strokeDash": {"field": "k", "type": "nominal", "scale": {"domain": ["a","b","c","d","e","f"], "range": [[10,5,2,5],[10,4,2,4,2,4],[4,5],[1,0],[1,0],[6,4,1,4]]}, "legend": null}, "color": {"field": "k", "type": "nominal", "scale": {"domain": ["a","b","c","d","e","f"], "range": ["#9a9a9a","#9a9a9a","#a8a8a8","#9a9a9a","#808080","#707070"]}, "legend": null}, "strokeWidth": {"field": "k", "type": "ordinal", "scale": {"domain": ["a","b","c","d","e","f"], "range": [3,3,4,1.2,1.5,1]}, "legend": null}}},
        {"data": {"name": "water"}, "mark": {"type": "line", "color": "#3a3a3a", "strokeWidth": 0.8, "point": {"filled": true, "color": "#111", "size": 62, "opacity": 1}},
         "encoding": {"x": {"field": "v", "type": "quantitative", "scale": {"domain": [7, 100], "nice": false, "zero": false}, "axis": {"orient": "top", "title": ["Water", "wt.%"], "titleFontSize": 19, "titleY": -64, "titleLineHeight": 24, "labelOverlap": false, "values": [10,15,20,25,30,35,40,45,50,55,60,65,70,75,80,85,90,95,100], "labelExpr": "datum.value == 25 ? '25' : datum.value == 50 ? '50' : datum.value == 75 ? '75' : ''"}}, "y": {"field": "age", "type": "quantitative"}, "order": {"field": "age", "type": "quantitative"}}}
      ]
    },
    {
      "width": 97, "height": 465,
      "resolve": {"scale": {"x": "independent"}, "axis": {"x": "independent"}},
      "layer": [
        {"data": {"name": "shade"}, "mark": {"type": "rect", "color": {"gradient": "linear", "x1": 0, "y1": 0, "x2": 0, "y2": 1, "stops": [{"offset": 0, "color": "#8a8a8a"}, {"offset": 0.35, "color": "#c6c6c6"}, {"offset": 1, "color": "#f6f6f6"}]}},
         "encoding": {"y": {"field": "y1", "type": "quantitative", "scale": {"domain": [0, 18], "reverse": true, "nice": false, "zero": false}, "axis": {"values": [0,1,2,3,4,5,6,7,8,9,10,11,12,13,14,15,16,17,18], "labels": false, "title": null, "gridOpacity": {"condition": {"test": "datum.value % 2 === 0 && datum.value > 0 && datum.value < 18", "value": 1}, "value": 0}}}, "y2": {"field": "y2"}}},
        {"data": {"name": "hl"}, "mark": {"type": "rule"}, "encoding": {"y": {"field": "y", "type": "quantitative"}, "strokeDash": {"field": "k", "type": "nominal", "scale": {"domain": ["a","b","c","d","e","f"], "range": [[10,5,2,5],[10,4,2,4,2,4],[4,5],[1,0],[1,0],[6,4,1,4]]}, "legend": null}, "color": {"field": "k", "type": "nominal", "scale": {"domain": ["a","b","c","d","e","f"], "range": ["#9a9a9a","#9a9a9a","#a8a8a8","#9a9a9a","#808080","#707070"]}, "legend": null}, "strokeWidth": {"field": "k", "type": "ordinal", "scale": {"domain": ["a","b","c","d","e","f"], "range": [3,3,4,1.2,1.5,1]}, "legend": null}}},
        {"data": {"name": "bsi"}, "mark": {"type": "line", "color": "#3a3a3a", "strokeWidth": 0.8, "point": {"filled": true, "color": "#111", "size": 62, "opacity": 1}},
         "encoding": {"x": {"field": "v", "type": "quantitative", "scale": {"domain": [0, 45], "nice": false, "zero": false}, "axis": {"orient": "top", "title": ["Biogenic", "silica %"], "titleFontSize": 19, "titleY": -63, "titleLineHeight": 23, "labelOverlap": false, "values": [0,5,10,15,20,25,30,35,40,45], "labelExpr": "datum.value == 10 ? '10' : datum.value == 20 ? '20' : datum.value == 30 ? '30' : ''"}}, "y": {"field": "age", "type": "quantitative"}, "order": {"field": "age", "type": "quantitative"}}},
        {"data": {"name": "sublabels"}, "mark": {"type": "text", "font": "Liberation Sans", "fontWeight": "bold", "fontSize": 17, "color": "#111", "align": "center", "baseline": "middle"}, "encoding": {"x": {"field": "v", "type": "quantitative", "scale": {"domain": [0, 45], "nice": false, "zero": false}, "axis": null}, "y": {"field": "age", "type": "quantitative"}, "text": {"field": "t"}}}
      ]
    },
    {
      "width": 119, "height": 465,
      "view": {"stroke": null},
      "layer": [
        {"data": {"name": "zlines"}, "mark": {"type": "rule", "color": "#9a9a9a", "strokeWidth": 1}, "encoding": {"x": {"field": "x1", "type": "quantitative", "scale": {"domain": [0, 1], "nice": false, "zero": false}, "axis": null}, "x2": {"field": "x2"}, "y": {"field": "y", "type": "quantitative", "scale": {"domain": [0, 18], "reverse": true, "nice": false, "zero": false}, "axis": null}}},
        {"data": {"name": "zshafts"}, "mark": {"type": "rule", "color": "#444", "strokeWidth": 1}, "encoding": {"x": {"field": "x", "type": "quantitative"}, "y": {"field": "y1", "type": "quantitative"}, "y2": {"field": "y2"}}},
        {"data": {"name": "z4shaft"}, "mark": {"type": "rule", "color": "#444", "strokeWidth": 1, "strokeDash": [3, 2]}, "encoding": {"x": {"field": "x1", "type": "quantitative"}, "x2": {"field": "x2"}, "y": {"field": "y", "type": "quantitative"}}},
        {"data": {"name": "zup"}, "mark": {"type": "point", "shape": "triangle-up", "filled": true, "color": "#111", "size": 70, "opacity": 1}, "encoding": {"x": {"field": "x", "type": "quantitative"}, "y": {"field": "y", "type": "quantitative"}}},
        {"data": {"name": "zdown"}, "mark": {"type": "point", "shape": "triangle-down", "filled": true, "color": "#111", "size": 70, "opacity": 1}, "encoding": {"x": {"field": "x", "type": "quantitative"}, "y": {"field": "y", "type": "quantitative"}}},
        {"data": {"name": "zleft"}, "mark": {"type": "point", "shape": "triangle-left", "filled": true, "color": "#111", "size": 60, "opacity": 1}, "encoding": {"x": {"field": "x", "type": "quantitative"}, "y": {"field": "y", "type": "quantitative"}}},
        {"data": {"name": "ztext"}, "mark": {"type": "text", "font": "Liberation Sans", "fontWeight": "bold", "fontSize": 14, "color": "#222", "align": "center", "baseline": "middle"}, "encoding": {"x": {"field": "x", "type": "quantitative"}, "y": {"field": "y", "type": "quantitative"}, "text": {"field": "t"}}},
        {"data": {"name": "z4text"}, "mark": {"type": "text", "font": "Liberation Sans", "fontWeight": "bold", "fontSize": 14, "color": "#222", "align": "left", "baseline": "middle"}, "encoding": {"x": {"field": "x", "type": "quantitative"}, "y": {"field": "y", "type": "quantitative"}, "text": {"field": "t"}}},
        {"data": {"name": "z1text"}, "mark": {"type": "text", "font": "Liberation Sans", "fontWeight": "bold", "fontSize": 18, "color": "#222", "align": "center", "baseline": "middle", "angle": 270}, "encoding": {"x": {"field": "x", "type": "quantitative"}, "y": {"field": "y", "type": "quantitative"}, "text": {"field": "t"}}}
      ]
    }
  ]
}
